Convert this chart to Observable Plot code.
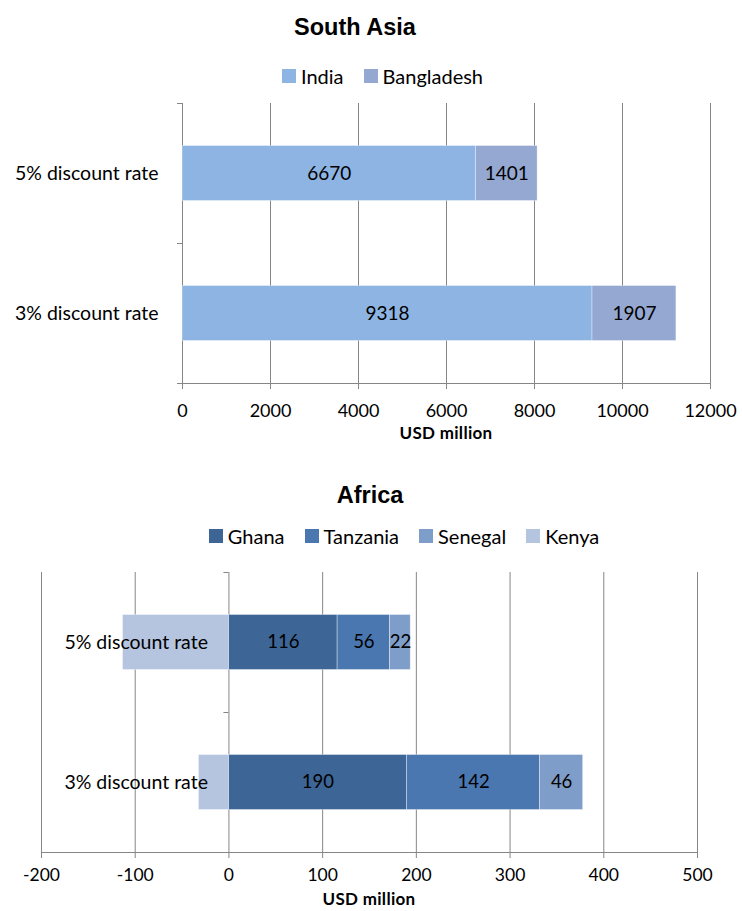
<!DOCTYPE html>
<html>
<head>
<meta charset="utf-8">
<script src="https://cdn.jsdelivr.net/npm/d3@7"></script>
<script src="https://cdn.jsdelivr.net/npm/@observablehq/plot@0.6"></script>
<style>
  body { margin: 0; background: #fff; }
  #root { position: relative; width: 742px; height: 911px; overflow: hidden; font-family: Lato, "Open Sans", sans-serif; color: #000; background: #fff; }
  .title { position: absolute; left: 0; font-family: "Liberation Sans", Arial, sans-serif; font-weight: bold; font-size: 23.5px; line-height: 26px; text-align: center; }
  .legend { position: absolute; left: 0; display: flex; justify-content: center; align-items: center; font-size: 20px; line-height: 22px; height: 22px; }
  .legend .item { display: inline-flex; align-items: center; margin: 0 10px; }
  .legend .sw { width: 14px; height: 14px; display: inline-block; margin-right: 5px; }
  .axlabel { position: absolute; text-align: center; font-family: Lato, sans-serif; font-weight: bold; font-size: 17px; line-height: 18px; letter-spacing: 0.3px; }
  .chart { position: absolute; left: 0; }
</style>
</head>
<body>
<div id="root"></div>
<script>
// ---------- data ----------
const categories = ["5% discount rate", "3% discount rate"];

const southAsiaCountries = ["India", "Bangladesh"];
const india = [6670, 9318];
const bangladesh = [1401, 1907];
const southAsiaColors = ["#8DB4E2", "#95A8D1"];
const southAsiaTicks = [0, 2000, 4000, 6000, 8000, 10000, 12000];

const africaCountries = ["Ghana", "Tanzania", "Senegal", "Kenya"];
const ghana = [116, 190];
const tanzania = [56, 142];
const senegal = [22, 46];
const kenya = [-113, -32];
const africaColors = ["#3D6595", "#4A77B0", "#7F9DC9", "#B5C4DF"];
const africaTicks = [-200, -100, 0, 100, 200, 300, 400, 500];

const axisLabel = "USD million";

// ---------- tables ----------
function toRows(countries, series) {
  const rows = [];
  countries.forEach((c, i) => {
    categories.forEach((cat, j) => rows.push({ cat, country: c, value: series[i][j] }));
  });
  return rows;
}
const southAsiaRows = toRows(southAsiaCountries, [india, bangladesh]);
const africaRows = toRows(africaCountries, [ghana, tanzania, senegal, kenya]);

const GRID = "#868686";
const root = document.getElementById("root");

function addDiv(cls, html, style) {
  const d = document.createElement("div");
  d.className = cls;
  d.innerHTML = html;
  Object.assign(d.style, style);
  root.appendChild(d);
  return d;
}
function legendHTML(names, colors) {
  return names.map((n, i) => `<span class="item"><span class="sw" style="background:${colors[i]}"></span>${n}</span>`).join("");
}

function chart({ rows, countries, colors, ticks, domain, height, mt, mb, ml, mr, barH, yAxisAtZero, labelSize, tickSize, catSize, tickPadding }) {
  const bw = (height - mt - mb) / categories.length;
  const inset = (bw - barH) / 2;
  const last = categories[categories.length - 1];
  const marks = [
    Plot.ruleX(ticks, { stroke: GRID, strokeWidth: 1 }),
    Plot.barX(rows, Plot.stackX({ x: "value", y: "cat", fill: "country", insetTop: inset, insetBottom: inset, stroke: "white", strokeOpacity: 0.45, strokeWidth: 0.8 })),
    Plot.text(rows, Plot.stackX({ x: "value", y: "cat", z: "country", text: (d) => String(d.value), filter: (d) => d.value > 0, fontSize: labelSize, fill: "#000" })),
    // x axis line
    Plot.ruleY([last], { dy: bw / 2, stroke: GRID, strokeWidth: 1 }),
    // category boundary ticks on the value axis at zero
    Plot.ruleY(categories, { x1: 0, x2: 0, insetLeft: -5, dy: -bw / 2, stroke: GRID }),
    Plot.ruleY([last], { x1: 0, x2: 0, insetLeft: -5, dy: bw / 2, stroke: GRID }),
    Plot.axisX({ ticks, tickSize: 6, tickPadding, stroke: GRID, fill: "#000", tickFormat: (d) => String(d), label: null, fontSize: tickSize })
  ];
  if (yAxisAtZero) {
    marks.push(Plot.text(categories, { x: 0, y: (d) => d, text: (d) => d, textAnchor: "end", dx: -21, fontSize: catSize, fill: "#000" }));
  } else {
    marks.push(Plot.axisY({ tickSize: 0, tickPadding: 24, label: null, fontSize: catSize, fill: "#000" }));
  }
  return Plot.plot({
    width: 742, height,
    marginTop: mt, marginBottom: mb, marginLeft: ml, marginRight: mr,
    x: { domain, axis: null },
    y: { domain: categories, padding: 0, axis: null },
    color: { domain: countries, range: colors },
    style: { fontFamily: "Lato, 'Open Sans', sans-serif", fontSize: tickSize + "px", color: "#000", background: "transparent", overflow: "visible" },
    marks
  });
}

// ---------- South Asia ----------
addDiv("title", "South Asia", { top: "14px", width: "710px" });
addDiv("legend", legendHTML(southAsiaCountries, southAsiaColors), { top: "65px", width: "765px" });
const c1 = chart({ rows: southAsiaRows, countries: southAsiaCountries, colors: southAsiaColors, ticks: southAsiaTicks, domain: [0, 12000], height: 350, mt: 8, mb: 62, ml: 182, mr: 32, barH: 55, yAxisAtZero: false, labelSize: 19, tickSize: 18, catSize: 19.5, tickPadding: 15 });
c1.classList.add("chart");
c1.style.top = "95px";
root.appendChild(c1);
addDiv("axlabel", axisLabel, { top: "424px", left: "182px", width: "528px" });

// ---------- Africa ----------
addDiv("title", "Africa", { top: "482px", width: "740px" });
addDiv("legend", legendHTML(africaCountries, africaColors), { top: "525px", width: "808px" });
const c2 = chart({ rows: africaRows, countries: africaCountries, colors: africaColors, ticks: africaTicks, domain: [-200, 500], height: 350, mt: 18, mb: 52, ml: 41, mr: 45, barH: 55, yAxisAtZero: true, labelSize: 18.5, tickSize: 17.5, catSize: 19.5, tickPadding: 10 });
c2.classList.add("chart");
c2.style.top = "554px";
root.appendChild(c2);
addDiv("axlabel", axisLabel, { top: "890px", left: "41px", width: "656px" });
</script>
</body>
</html>
